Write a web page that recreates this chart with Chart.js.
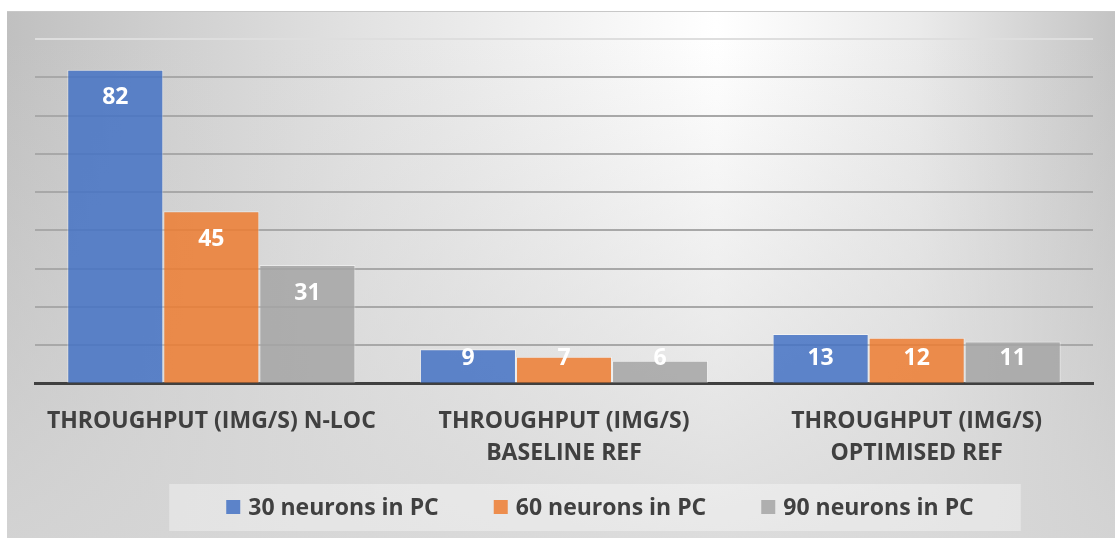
<!doctype html>
<html lang="en">
<head>
    <meta charset="utf-8">
    <title>Throughput chart</title>
    <script src="https://cdn.jsdelivr.net/npm/chart.js"></script>
    <style>
        body {
            margin: 0;
            background: #ffffff;
        }

        .chart-box {
            position: relative;
            width: 1115px;
            height: 538px;
        }
    </style>
</head>

<body>
    <div class="chart-box">
        <canvas id="barChart"></canvas>
    </div>

    <script>
        // Chart data
        const categories = [
            'THROUGHPUT (IMG/S) N-LOC',
            ['THROUGHPUT (IMG/S)', 'BASELINE REF'],
            ['THROUGHPUT (IMG/S)', 'OPTIMISED REF']
        ];
        const seriesNames = ['30 neurons in PC', '60 neurons in PC', '90 neurons in PC'];
        const neurons30 = [82, 9, 13];
        const neurons60 = [45, 7, 12];
        const neurons90 = [31, 6, 11];
        const yMax = 90;
        const yStep = 10;

        const fontFamily = "'Open Sans', 'DejaVu Sans', sans-serif";
        const textColor = '#404040';

        // Background gradient + top border line
        const backgroundPlugin = {
            id: 'backgroundPlugin',
            beforeDraw(chart) {
                const ctx = chart.ctx;
                const w = chart.width;
                const h = chart.height;
                ctx.save();
                const hg = ctx.createLinearGradient(7, 0, w, 0);
                hg.addColorStop(0, '#c0c0c0');
                hg.addColorStop(0.32, '#e2e2e2');
                hg.addColorStop(0.64, '#ffffff');
                hg.addColorStop(0.82, '#ebebeb');
                hg.addColorStop(1, '#c4c4c4');
                ctx.fillStyle = hg;
                ctx.fillRect(7, 11, w - 7, h - 11);
                const vg = ctx.createLinearGradient(0, 40, 0, h);
                vg.addColorStop(0, 'rgba(214,214,214,0)');
                vg.addColorStop(1, 'rgba(214,214,214,0.85)');
                ctx.fillStyle = vg;
                ctx.fillRect(7, 11, w - 7, h - 11);
                ctx.strokeStyle = '#c8c8c8';
                ctx.lineWidth = 1;
                ctx.beginPath();
                ctx.moveTo(7, 11.5);
                ctx.lineTo(w, 11.5);
                ctx.stroke();
                ctx.restore();
            }
        };

        // White value labels inside the bars
        const valueLabels = {
            id: 'valueLabels',
            afterDatasetsDraw(chart) {
                const ctx = chart.ctx;
                const base = chart.scales.y.getPixelForValue(0);
                ctx.save();
                ctx.fillStyle = '#ffffff';
                ctx.font = 'bold 23px ' + fontFamily;
                ctx.textAlign = 'center';
                ctx.textBaseline = 'middle';
                chart.data.datasets.forEach((ds, i) => {
                    chart.getDatasetMeta(i).data.forEach((bar, j) => {
                        const y = Math.min(bar.y + 28, base - 25);
                        ctx.fillText(String(ds.data[j]), bar.x, y);
                    });
                });
                ctx.restore();
            }
        };

        // Legend with a light panel behind it
        const panelLegend = {
            id: 'panelLegend',
            afterDraw(chart) {
                const ctx = chart.ctx;
                const boxSize = 14;
                const textGap = 8;
                const itemGap = 55;
                const centerX = 600;
                const midY = 507;
                ctx.save();
                ctx.font = 'bold 23px ' + fontFamily;
                const items = chart.data.datasets.map(ds => ({
                    text: ds.label,
                    color: ds.backgroundColor,
                    width: boxSize + textGap + ctx.measureText(ds.label).width
                }));
                const total = items.reduce((s, it) => s + it.width, 0) + itemGap * (items.length - 1);
                let x = centerX - total / 2;

                ctx.fillStyle = 'rgba(255,255,255,0.35)';
                ctx.fillRect(x - 57, 484, total + 104, 47);

                ctx.textBaseline = 'middle';
                ctx.textAlign = 'left';
                items.forEach(it => {
                    ctx.fillStyle = it.color;
                    ctx.fillRect(x, midY - boxSize / 2, boxSize, boxSize);
                    ctx.fillStyle = textColor;
                    ctx.fillText(it.text, x + boxSize + textGap, midY + 1);
                    x += it.width + itemGap;
                });
                ctx.restore();
            }
        };

        const ctx = document.getElementById('barChart').getContext('2d');
        const barChart = new Chart(ctx, {
            type: 'bar',
            data: {
                labels: categories,
                datasets: [{
                    label: seriesNames[0],
                    data: neurons30,
                    backgroundColor: 'rgba(68, 114, 196, 0.85)',
                    borderColor: 'rgba(255, 255, 255, 0.45)',
                    borderWidth: 1
                }, {
                    label: seriesNames[1],
                    data: neurons60,
                    backgroundColor: 'rgba(237, 125, 49, 0.85)',
                    borderColor: 'rgba(255, 255, 255, 0.45)',
                    borderWidth: 1
                }, {
                    label: seriesNames[2],
                    data: neurons90,
                    backgroundColor: 'rgba(165, 165, 165, 0.85)',
                    borderColor: 'rgba(255, 255, 255, 0.45)',
                    borderWidth: 1
                }]
            },
            options: {
                responsive: true,
                maintainAspectRatio: false,
                animation: false,
                categoryPercentage: 0.817,
                barPercentage: 1,
                layout: {
                    padding: { left: 35, right: 22, top: 39, bottom: 55 }
                },
                plugins: {
                    legend: { display: false },
                    tooltip: { enabled: false }
                },
                scales: {
                    x: {
                        grid: { display: false },
                        border: { display: true, color: '#404040', width: 3 },
                        ticks: {
                            color: textColor,
                            font: { family: fontFamily, size: 23, weight: 'bold', lineHeight: 1.42 },
                            padding: 13,
                            maxRotation: 0,
                            autoSkip: false
                        }
                    },
                    y: {
                        min: 0,
                        max: yMax,
                        ticks: { display: false, stepSize: yStep },
                        border: { display: false },
                        grid: {
                            drawTicks: false,
                            lineWidth: 2,
                            color: c => c.tick && c.tick.value === yMax ? '#dedede' : '#a8a8a8'
                        }
                    }
                }
            },
            plugins: [backgroundPlugin, valueLabels, panelLegend]
        });
    </script>
</body>

</html>
